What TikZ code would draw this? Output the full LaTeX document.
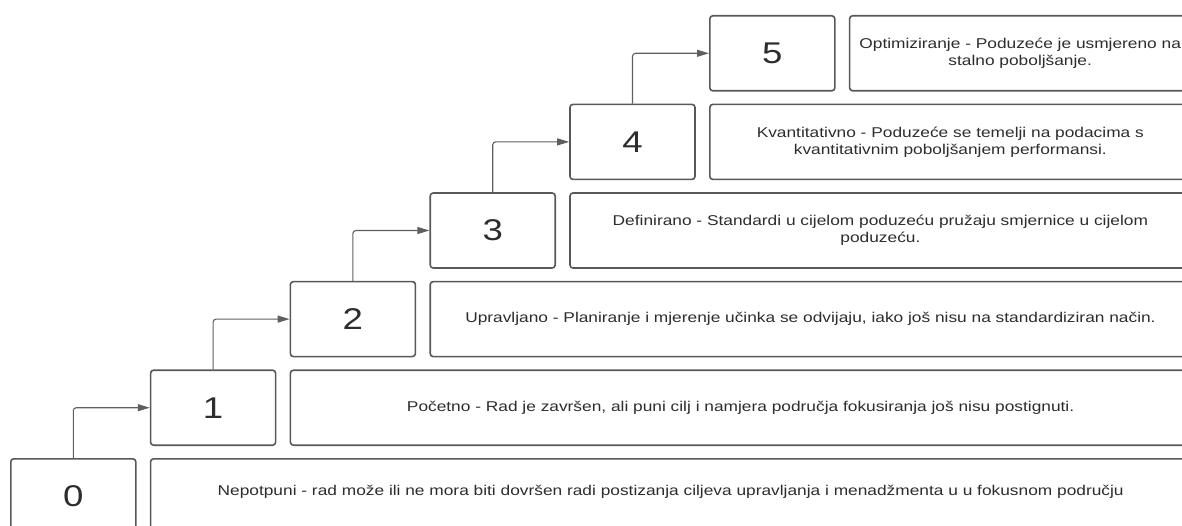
\documentclass[tikz,border=0pt]{standalone}
\usepackage{fontspec}
\setmainfont{Liberation Sans}[FakeStretch=1.22]
\usetikzlibrary{arrows.meta}
\definecolor{edge}{RGB}{88,88,88}
\definecolor{ink}{RGB}{45,45,45}
\definecolor{conncol}{RGB}{95,95,95}
\tikzset{
  numbox/.style={draw=edge, line width=1.6pt, rounded corners=3pt, fill=white,
    minimum width=125pt, minimum height=75pt, anchor=north west, inner sep=0pt,
    text=ink, font=\fontsize{30}{30}\selectfont},
  descbox/.style={draw=edge, line width=1.6pt, rounded corners=3pt, fill=white,
    minimum height=75pt, anchor=north west, inner sep=0pt, align=center,
    text=ink, font=\fontsize{14.2}{17}\selectfont},
  conn/.style={draw=conncol, line width=1.1pt, rounded corners=3pt,
    -{Triangle[length=12pt,width=7pt]}},
}
\begin{document}
\begin{tikzpicture}[x=1pt,y=-1pt]
\useasboundingbox (0,0) rectangle (1182,526);
\begin{scope}
\clip (0,0) rectangle (1182,526);
\foreach \i in {0,...,5} {
  \pgfmathsetmacro\L{10+139.8*\i}
  \pgfmathsetmacro\T{15+88.6*(5-\i)}
  \node[numbox] (n\i) at (\L,\T) {\i};
}
\foreach \i/\txt in {
  0/{Nepotpuni - rad može ili ne mora biti dovršen radi postizanja ciljeva upravljanja i menadžmenta u u fokusnom području\\[-5pt]},
  1/{Početno - Rad je završen, ali puni cilj i namjera područja fokusiranja još nisu postignuti.},
  2/{Upravljano - Planiranje i mjerenje učinka se odvijaju, iako još nisu na standardiziran način.},
  3/{Definirano - Standardi u cijelom poduzeću pružaju smjernice u cijelom\\poduzeću.},
  4/{Kvantitativno - Poduzeće se temelji na podacima s\\kvantitativnim poboljšanjem performansi.},
  5/{Optimiziranje - Poduzeće je usmjereno na\\stalno poboljšanje.}} {
  \pgfmathsetmacro\L{10+139.8*(\i+1)}
  \pgfmathsetmacro\T{15+88.6*(5-\i)}
  \pgfmathsetmacro\W{1190-\L}
  \node[descbox, minimum width=\W pt] (t\i) at (\L,\T) {\txt};
}
\foreach \i/\j in {0/1,1/2,2/3,3/4,4/5} {
  \draw[conn] (n\i.north) |- (n\j.west);
}
\end{scope}
\end{tikzpicture}
\end{document}
